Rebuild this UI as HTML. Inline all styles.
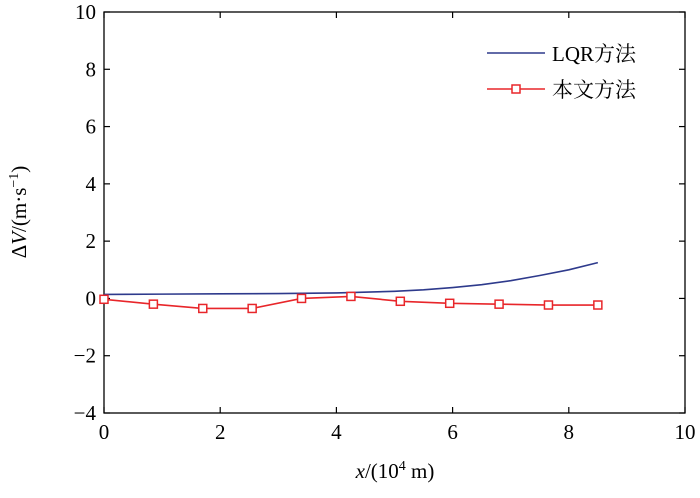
<!DOCTYPE html>
<html><head><meta charset="utf-8"><style>
body{margin:0;background:#fff;}
text{font-family:"Liberation Serif","Noto Serif CJK SC",serif;fill:#000;}
</style></head><body>
<svg id="chart" width="700" height="493" xmlns="http://www.w3.org/2000/svg">
<g id="axes"></g>
<g id="series"></g>
<g id="legend">
<line x1="487" y1="53" x2="545" y2="53" stroke="#2e3a8c" stroke-width="1.6"/>
<text x="552" y="61" font-size="21">LQR方法</text>
<line x1="487" y1="89" x2="545" y2="89" stroke="#e8262a" stroke-width="1.6"/>
<rect x="512" y="85" width="8" height="8" fill="#fff" stroke="#e8262a" stroke-width="1.5"/>
<text x="552" y="97" font-size="21">本文方法</text>
</g>
<text x="395" y="478" font-size="21" text-anchor="middle"><tspan font-style="italic">x</tspan>/(10<tspan font-size="14" dy="-8">4</tspan><tspan dy="8"> m)</tspan></text>
<text transform="translate(26,212) rotate(-90)" font-size="21" text-anchor="middle">Δ<tspan font-style="italic">V</tspan>/(m·s<tspan font-size="14" dy="-8">−1</tspan><tspan dy="8">)</tspan></text>
</svg>
<script>
const xTicks=[0,2,4,6,8,10];
const yTicks=[-4,-2,0,2,4,6,8,10];
const lqrX=[0,1,2,3,4,5,5.5,6,6.5,7,7.5,8,8.5];
const lqrY=[0.14,0.15,0.16,0.17,0.19,0.25,0.3,0.38,0.48,0.62,0.8,1.0,1.25];
const propX=[0,0.85,1.7,2.55,3.4,4.25,5.1,5.95,6.8,7.65,8.5];
const propY=[-0.03,-0.2,-0.35,-0.35,0.0,0.07,-0.1,-0.17,-0.2,-0.23,-0.23];
const L=104,R=685,T=12,B=413;
const sx=v=>L+(v-0)/10*(R-L);
const sy=v=>B-(v+4)/14*(B-T);
const NS="http://www.w3.org/2000/svg";
const ax=document.getElementById('axes'),se=document.getElementById('series');
function mk(t,a,p){const e=document.createElementNS(NS,t);for(const k in a)e.setAttribute(k,a[k]);p.appendChild(e);return e;}
const box=mk('rect',{x:L,y:T,width:R-L,height:B-T,fill:'none',stroke:'#000','stroke-width':1.3},ax);


xTicks.forEach(v=>{
 const l=mk('line',{x1:sx(v),x2:sx(v),y1:B,y2:B-6,stroke:'#000','stroke-width':1.2},ax);
 
 
 const l2=mk('line',{x1:sx(v),x2:sx(v),y1:T,y2:T+6,stroke:'#000','stroke-width':1.2},ax);
 
 
 const t=mk('text',{x:sx(v),y:B+26,'font-size':21,'text-anchor':'middle'},ax);t.textContent=v;
 
 
});
yTicks.forEach(v=>{
 const l=mk('line',{x1:L,x2:L+6,y1:sy(v),y2:sy(v),stroke:'#000','stroke-width':1.2},ax);
 
 
 const l2=mk('line',{x1:R,x2:R-6,y1:sy(v),y2:sy(v),stroke:'#000','stroke-width':1.2},ax);
 
 
 const t=mk('text',{x:L-8,y:sy(v)+7,'font-size':21,'text-anchor':'end'},ax);t.textContent=v<0?'−'+(-v):v;
 
 
});
const p1=mk('polyline',{points:lqrX.map((x,i)=>sx(x)+','+sy(lqrY[i])).join(' '),fill:'none',stroke:'#2e3a8c','stroke-width':1.6},se);


const p2=mk('polyline',{points:propX.map((x,i)=>sx(x)+','+sy(propY[i])).join(' '),fill:'none',stroke:'#e8262a','stroke-width':1.6},se);


propX.forEach((x,i)=>{
 const r=mk('rect',{x:sx(x)-4,y:sy(propY[i])-4,width:8,height:8,fill:'#fff',stroke:'#e8262a','stroke-width':1.5},se);
 
 
});
</script>
</body></html>
